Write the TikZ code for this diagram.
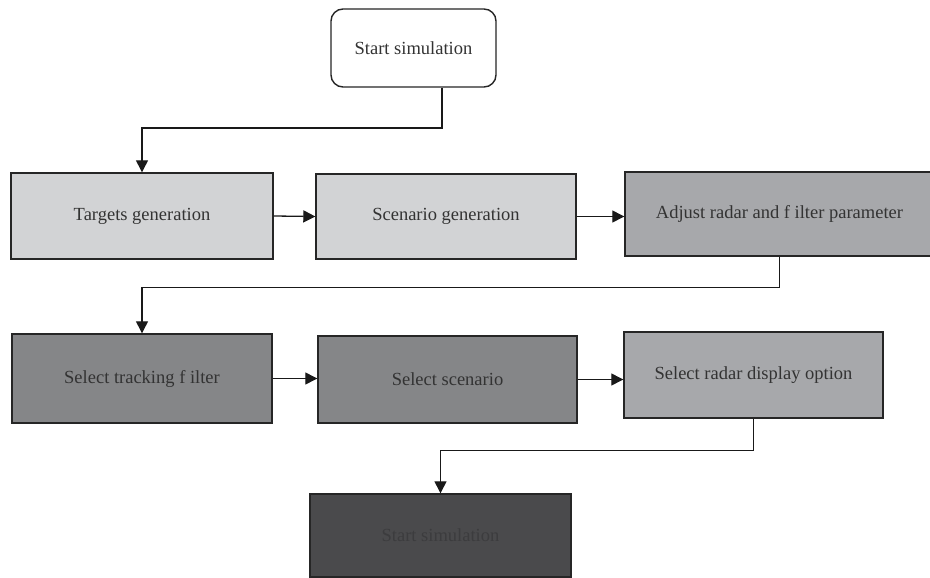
\documentclass[tikz,border=0pt]{standalone}
\usepackage{fontspec}
\setmainfont{Liberation Serif}
\usetikzlibrary{arrows.meta}
\definecolor{boxA}{HTML}{D2D3D5}
\definecolor{boxB}{HTML}{A7A8AB}
\definecolor{boxC}{HTML}{858688}
\definecolor{boxD}{HTML}{4A4A4C}
\definecolor{txt}{HTML}{333333}
\definecolor{txtdark}{HTML}{3C3C3E}
\tikzset{
  blk/.style={draw=black!85, line width=1.4pt, text=txt, font=\fontsize{18.5}{22}\selectfont, inner sep=0pt},
  arr/.style={draw=black!90, line width=1.3pt, -{Triangle[length=12pt,width=12pt]}},
}

\begin{document}
\begin{tikzpicture}[x=1pt,y=-1pt]
			%%%%% START %%%%%
			\useasboundingbox (0,0) rectangle (930,578);
			
			\node[blk, rounded corners=12pt, fill=white, minimum width=165pt, minimum height=78pt] (start) at (413.5,48) {Start simulation};
			
			\node[blk, fill=boxA, minimum width=262pt, minimum height=86pt] (targets) at (142,216) {Targets generation};
			\node[blk, fill=boxA, minimum width=260pt, minimum height=85pt] (scen) at (446,216.5) {Scenario generation};
			\node[blk, fill=boxB, minimum width=309pt, minimum height=84pt] (adjust) at (779.5,214) {Adjust radar and f ilter parameter};
			
			\node[blk, fill=boxC, minimum width=260pt, minimum height=89pt] (track) at (142,378.5) {Select tracking f ilter};
			\node[blk, fill=boxC, minimum width=259pt, minimum height=87pt] (selscen) at (447.5,379.5) {Select scenario};
			\node[blk, fill=boxB, minimum width=259pt, minimum height=86pt] (display) at (753.5,375) {Select radar display option};
			
			\node[blk, fill=boxD, text=txtdark, minimum width=261pt, minimum height=83pt] (finish) at (440.5,535.5) {Start simulation};
			
			\coordinate (k1) at (442,128);
			\draw[arr] (start.south -| k1) -- (k1) -| (targets.north);
			\draw[arr] (targets.east) -- (scen.west);
			\draw[arr] (scen.east) -- (scen.east -| adjust.west);
			\draw[arr] (adjust.south) -- ++(0,31) -| (track.north);
			\draw[arr] (track.east) -- (track.east -| selscen.west);
			\draw[arr] (selscen.east) -- (selscen.east -| display.west);
			\draw[arr] (display.south) -- ++(0,32) -| (finish.north);
			
			%%%%% END %%%%%
		\end{tikzpicture}
\end{document}
